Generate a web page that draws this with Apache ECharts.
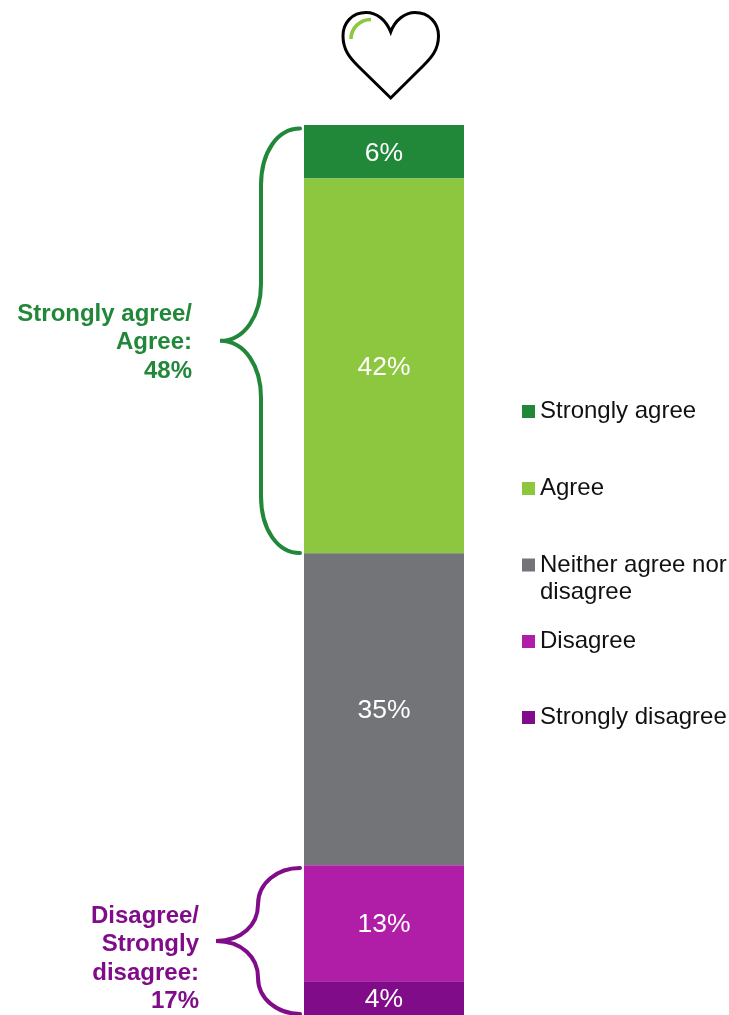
<!DOCTYPE html>
<html><head><meta charset="utf-8">
<style>html,body{margin:0;padding:0;background:#fff}#c{width:729px;height:1015px}</style>
<script src="https://cdn.jsdelivr.net/npm/echarts@6/dist/echarts.min.js"></script>
</head><body><div id="c"></div>
<script>
const categories = ['Response'];
const seriesNames = ['Strongly agree','Agree','Neither agree nor disagree','Disagree','Strongly disagree'];
const seriesValues = [6,42,35,13,4];
const seriesColors = ['#218739','#8DC63F','#737477','#B01EA8','#800C8A'];
const legendTops = [398,475,552,628,704];
const braceRanges = [[0.4,47.98],[83.3,99.66]];
const braceShapes = [[39,80],[42,84]];
const braceColors = ['#218739','#800C8A'];
const braceLabels = [['Strongly agree/','Agree:','48%'],['Disagree/','Strongly','disagree:','17%']];
const braceLabelRight = [192,199];
const braceLabelShift = [2,18];
const axisMax = 99.78;

const font = '"Liberation Sans", Arial, sans-serif';
const chart = echarts.init(document.getElementById('c'), null, {renderer:'canvas'});

function bracePath(x, y0, y1, depth, ext) {
  const ym = (y0+y1)/2 , tip = x-ext, c = x-depth;
  const r = Math.min(57, (y1-y0)/4);
  return `M${x} ${y0} C${x-22} ${y0} ${c} ${y0+r*0.4} ${c} ${y0+r}`
    + `L${c} ${ym-r} C${c} ${ym-r*0.45} ${c-16} ${ym} ${tip} ${ym}`
    + `C${c-16} ${ym} ${c} ${ym+r*0.45} ${c} ${ym+r}`
    + `L${c} ${y1-r} C${c} ${y1-r*0.4} ${x-22} ${y1} ${x} ${y1}`;
}

const series = seriesNames.map((n,i)=>({
  type:'bar', name:n, stack:'total', barWidth:'100%',
  data:[seriesValues[i]],
  itemStyle:{color:seriesColors[i]},
  label:{show:true, position:'inside', offset:[0,1.5], formatter:'{c}%', color:'#fff', fontFamily:font, fontSize:26.5},
  silent:true
}));

series.push({
  type:'custom', name:'braces', silent:true, clip:false, z:5,
  data: braceRanges.map((r,i)=>[0,r[0],r[1],i]),
  encode:{x:0,y:[1,2]},
  renderItem(params, api){
    const i = api.value(3);
    const y0 = api.coord([0,api.value(1)])[1], y1 = api.coord([0,api.value(2)])[1];
    const left = api.coord([0,0])[0] - api.size([1,0])[0]/2;
    const x = left-4, depth = braceShapes[i][0], ext = braceShapes[i][1];
    const lines = braceLabels[i];
    const ym = (y0+y1)/2;
    const lh = 28.5;
    const children = [{
      type:'path',
      shape:{pathData:bracePath(x,y0,y1,depth,ext), x:x-ext, y:y0, width:ext, height:y1-y0, layout:'cover'},
      style:{fill:'none', stroke:braceColors[i], lineWidth:4, lineCap:'round'}
    }];
    lines.forEach((t,k)=>{
      children.push({type:'text', style:{
        text:t, x:braceLabelRight[i], y: ym + (k-(lines.length-1)/2)*lh + braceLabelShift[i],
        align:'right', verticalAlign:'middle',
        fill:braceColors[i], font:`bold 24px ${font}`
      }});
    });
    return {type:'group', children};
  }
});

series.push({
  type:'custom', name:'heart', silent:true, clip:false, z:6,
  data:[[0,0]],
  renderItem(){
    return {type:'group', children:[
      {type:'path',
       shape:{pathData:'M390.7 32C386 20 377 12.5 366 12.5C352 12.5 343 23 343 36C343 50 350 58 358 66L390.7 98L423 66C431 58 438.5 50 438.5 36C438.5 23 429 12.5 415 12.5C405 12.5 395 20 390.7 32Z', x:343, y:12.5, width:95.5, height:85.5, layout:'cover'},
       style:{fill:'#fff', stroke:'#000', lineWidth:3, lineJoin:'miter'}},
      {type:'path',
       shape:{pathData:'M351 39C351 28 360 19.5 371 19.5', x:351, y:19.5, width:20, height:19.5, layout:'cover'},
       style:{fill:'none', stroke:'#8DC63F', lineWidth:3.6}}
    ]};
  }
});

const legends = seriesNames.map((n,i)=>({
  show:true, data:[n], orient:'vertical', left:522, top:legendTops[i], padding:0,
  itemWidth:13, itemHeight: i===2 ? 41 : 13, itemGap:0,
  icon: i===2 ? 'path://M0 0H13V13H0Z M0 41L0 41Z' : 'rect',
  itemStyle:{color:seriesColors[i], borderWidth:0},
  formatter: nm => nm==='Neither agree nor disagree' ? 'Neither agree nor\ndisagree' : nm,
  textStyle:{fontFamily:font, fontSize:24, color:'#111', lineHeight:27},
  selectedMode:false
}));

chart.setOption({
  animation:false,
  grid:{left:304, top:125, width:160, height:890},
  xAxis:{type:'category', data:categories, show:false},
  yAxis:{type:'value', inverse:true, min:0, max:axisMax, show:false},
  legend:legends,
  series
});
</script></body></html>
